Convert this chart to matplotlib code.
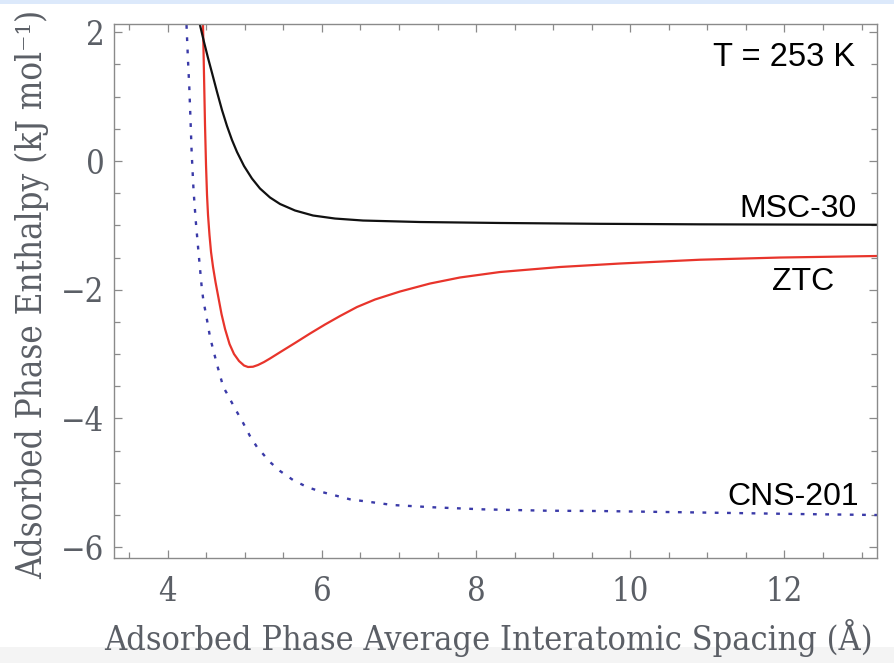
import matplotlib
matplotlib.use("Agg")
import matplotlib.pyplot as plt
from matplotlib.patches import Rectangle
from matplotlib.ticker import MultipleLocator

# Adsorbed phase enthalpy vs. average interatomic spacing at T = 253 K
msc30_x = [4.419, 4.471, 4.523, 4.575, 4.640, 4.704, 4.769, 4.834, 4.899, 4.990,
           5.093, 5.197, 5.327, 5.457, 5.651, 5.885, 6.170, 6.533, 7.272, 8.310,
           9.607, 10.904, 13.200]
msc30_y = [2.113, 1.849, 1.601, 1.368, 1.072, 0.793, 0.544, 0.326, 0.140, -0.078,
           -0.272, -0.427, -0.567, -0.668, -0.769, -0.847, -0.894, -0.925, -0.948, -0.963,
           -0.976, -0.984, -0.991]

ztc_x = [4.458, 4.471, 4.484, 4.497, 4.510, 4.523, 4.542, 4.562, 4.588, 4.620,
         4.659, 4.698, 4.744, 4.802, 4.860, 4.925, 4.990, 5.042, 5.106, 5.171,
         5.249, 5.327, 5.482, 5.651, 5.846, 6.040, 6.235, 6.455, 6.689, 7.013,
         7.402, 7.791, 8.310, 9.088, 9.866, 10.904, 11.942, 13.200]
ztc_y = [2.113, 1.336, 0.559, -0.062, -0.528, -0.839, -1.150, -1.414, -1.647, -1.880,
         -2.129, -2.378, -2.611, -2.844, -2.999, -3.108, -3.178, -3.201, -3.197, -3.170,
         -3.124, -3.069, -2.953, -2.828, -2.681, -2.541, -2.409, -2.269, -2.152, -2.028,
         -1.904, -1.810, -1.725, -1.647, -1.593, -1.534, -1.500, -1.476]

cns201_x = [4.244, 4.263, 4.280, 4.296, 4.311, 4.335, 4.363, 4.397, 4.441, 4.462,
            4.510, 4.549, 4.591, 4.652, 4.721, 4.765, 4.873, 4.981, 5.067, 5.158,
            5.327, 5.457, 5.625, 5.807, 6.002, 6.364, 6.922, 7.441, 8.090, 8.920,
            9.607, 10.904, 12.201, 13.200]
cns201_y = [2.113, 1.570, 1.150, 0.637, 0.124, -0.451, -0.917, -1.383, -1.958, -2.160,
            -2.471, -2.735, -2.937, -3.217, -3.512, -3.605, -3.846, -4.076, -4.274, -4.444,
            -4.678, -4.817, -4.957, -5.066, -5.144, -5.257, -5.346, -5.381, -5.413, -5.434,
            -5.439, -5.462, -5.486, -5.501]

x_ticks = [4, 6, 8, 10, 12]
y_ticks = [-6, -4, -2, 0, 2]
y_tick_labels = ["\u22126", "\u22124", "\u22122", "0", "2"]

label_color = "#5b5f66"
spine_color = "#8a8a8a"
serif = ["DejaVu Serif"]
sans = ["Liberation Sans", "DejaVu Sans"]

fig = plt.figure(figsize=(8.94, 6.63), dpi=100)
fig.patches.append(Rectangle((0, 1 - 4 / 663), 1, 4 / 663, transform=fig.transFigure,
                             facecolor="#dce9fb", edgecolor="none", zorder=-1))
fig.patches.append(Rectangle((0, 0), 1, 16 / 663, transform=fig.transFigure,
                             facecolor="#f4f4f4", edgecolor="none", zorder=-1))

ax = fig.add_axes([114 / 894, 1 - 558 / 663, (877 - 114) / 894, (558 - 24) / 663])

ax.plot(cns201_x, cns201_y, color="#3a3aa8", lw=1.7, linestyle=(0, (1.6, 3.6)),
        dash_capstyle="butt")
ax.plot(ztc_x, ztc_y, color="#e8342b", lw=1.6)
ax.plot(msc30_x, msc30_y, color="#111111", lw=1.6)

ax.set_xlim(3.3035, 13.20)
ax.set_ylim(-6.169, 2.129)

ax.xaxis.set_minor_locator(MultipleLocator(0.5))
ax.yaxis.set_minor_locator(MultipleLocator(0.5))
ax.set_xticks(x_ticks)
ax.set_yticks(y_ticks)
ax.set_yticklabels(y_tick_labels)

ax.tick_params(which="both", direction="in", top=True, right=True,
               color=spine_color, width=0.9)
ax.tick_params(which="major", length=6)
ax.tick_params(which="minor", length=4)
ax.tick_params(axis="x", which="major", pad=13)
ax.tick_params(axis="y", which="major", pad=7)
for lab in ax.get_xticklabels() + ax.get_yticklabels():
    lab.set_family(serif)
    lab.set_fontstretch("condensed")
    lab.set_fontsize(23.5)
    lab.set_color(label_color)

for sp in ax.spines.values():
    sp.set_color(spine_color)
    sp.set_linewidth(1.0)

ax.set_xlabel("Adsorbed Phase Average Interatomic Spacing (\u00c5)", family=serif,
              fontstretch="condensed", fontsize=24.5, color=label_color)
ax.set_ylabel("Adsorbed Phase Enthalpy (kJ mol\u207b\u00b9)", family=serif,
              fontstretch="condensed", fontsize=25, color=label_color)
ax.xaxis.set_label_coords(0.491, -0.115)
ax.yaxis.set_label_coords(-0.085, 0.494)

ax.text(12.91, 1.475, "T = 253 K", family=sans, fontsize=23.5, ha="right", va="baseline")
ax.text(12.94, -0.87, "MSC-30", family=sans, fontsize=23, ha="right", va="baseline")
ax.text(12.65, -2.0, "ZTC", family=sans, fontsize=23, ha="right", va="baseline")
ax.text(12.97, -5.34, "CNS-201", family=sans, fontsize=23, ha="right", va="baseline")

fig.savefig("out.png", dpi=100)
